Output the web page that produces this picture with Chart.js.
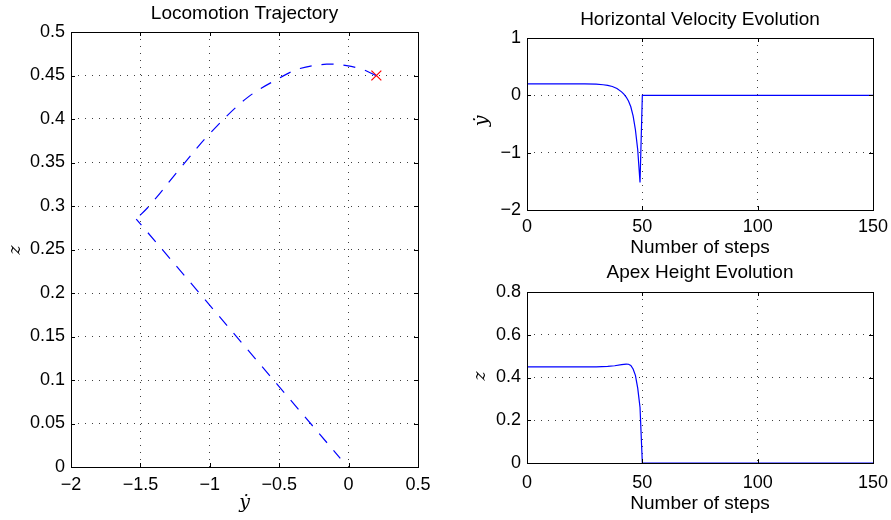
<!DOCTYPE html>
<html>
<head>
<meta charset="utf-8">
<script src="https://cdn.jsdelivr.net/npm/chart.js@4/dist/chart.umd.min.js"></script>
<style>
  html, body { margin: 0; padding: 0; background: #fff; }
  #wrap { position: relative; width: 891px; height: 520px; }
  #wrap canvas { position: absolute; left: 0; top: 0; }
</style>
</head>
<body>
<div id="wrap">
  <canvas id="trajChart" width="891" height="520"></canvas>
  <canvas id="velChart" width="891" height="520"></canvas>
  <canvas id="apexChart" width="891" height="520"></canvas>
</div>
<script>
// ── Data ───────────────────────────────────────────────────────────────
// left: apex trajectory (ydot vs z)
const trajCurveX = [0.195, 0.1, -0.014, -0.158, -0.35, -0.499, -0.734, -0.999, -1.215, -1.431, -1.53];
const trajCurveZ = [0.45, 0.457, 0.4613, 0.463, 0.458, 0.447, 0.424, 0.3835, 0.343, 0.301, 0.285];
const trajReturnX = [-1.53, -0.06];
const trajReturnZ = [0.285, 0.01];
const startX = [0.2];
const startZ = [0.45];

// right: evolution over steps
const velSteps = [0, 25, 30, 33, 35, 37, 39, 41, 42, 43, 44, 45, 46, 47, 48, 49, 50, 150];
const velValues = [0.2, 0.2, 0.195, 0.185, 0.175, 0.155, 0.12, 0.06, 0.02, -0.03, -0.1, -0.2, -0.36, -0.6, -0.95, -1.52, 0, 0];
const apexSteps = [0, 30, 35, 38, 41, 43, 44, 45, 46, 47, 48, 49, 50, 150];
const apexValues = [0.45, 0.45, 0.452, 0.455, 0.46, 0.463, 0.462, 0.456, 0.44, 0.41, 0.35, 0.26, 0, 0];

const trajXTicks = [-2, -1.5, -1, -0.5, 0, 0.5];
const trajZTicks = [0, 0.05, 0.1, 0.15, 0.2, 0.25, 0.3, 0.35, 0.4, 0.45, 0.5];
const stepTicks = [0, 50, 100, 150];
const velTicks = [-2, -1, 0, 1];
const apexTicks = [0, 0.2, 0.4, 0.6, 0.8];

// ── Helpers ────────────────────────────────────────────────────────────
const SANS = "'Liberation Sans', Arial, Helvetica, sans-serif";
const SERIF = "'DejaVu Serif', 'Liberation Serif', serif";

const pts = (xs, ys) => xs.map((x, i) => ({ x, y: ys[i] }));
const fmt = (v) => String(+Number(v).toFixed(3)).replace("-", "\u2212");

const axisText = {
  id: "axisText",
  afterDraw(chart, _args, opts) {
    const { ctx, chartArea: a } = chart;
    const cx = (a.left + a.right) / 2;
    ctx.save();
    ctx.fillStyle = "#000";
    ctx.textAlign = "center";
    ctx.textBaseline = "alphabetic";
    ctx.font = `19px ${SANS}`;
    ctx.fillText(opts.title, cx, opts.titleY);
    ctx.font = opts.xFont;
    ctx.fillText(opts.xLabel, cx, opts.xLabelY);
    ctx.translate(opts.yLabelX, opts.yLabelY);
    ctx.rotate(-Math.PI / 2);
    ctx.textBaseline = "middle";
    ctx.font = opts.yFont;
    ctx.fillText(opts.yLabel, 0, 0);
    ctx.restore();
  },
};

// box and inward tick marks, matlab style
const frame = {
  id: "frame",
  afterDraw(chart) {
    const { ctx, chartArea: a } = chart;
    const xs = chart.scales.x;
    const ys = chart.scales.y;
    const L = 4;
    ctx.save();
    ctx.strokeStyle = "#000";
    ctx.lineWidth = 1;
    ctx.beginPath();
    xs.ticks.forEach((t) => {
      const px = Math.round(xs.getPixelForValue(t.value)) + 0.5;
      ctx.moveTo(px, a.bottom);
      ctx.lineTo(px, a.bottom - L);
      ctx.moveTo(px, a.top);
      ctx.lineTo(px, a.top + L);
    });
    ys.ticks.forEach((t) => {
      const py = Math.round(ys.getPixelForValue(t.value)) + 0.5;
      ctx.moveTo(a.left, py);
      ctx.lineTo(a.left + L, py);
      ctx.moveTo(a.right, py);
      ctx.lineTo(a.right - L, py);
    });
    ctx.stroke();
    ctx.strokeRect(Math.round(a.left) + 0.5, Math.round(a.top) + 0.5,
      Math.round(a.right - a.left), Math.round(a.bottom - a.top));
    ctx.restore();
  },
};

// size = fixed thickness of the axis box (labels are clipped to it)
function makeScale(axis, min, max, tickList, size, padding) {
  return {
    type: "linear",
    min,
    max,
    afterBuildTicks(scale) {
      scale.ticks = tickList.map((value) => ({ value }));
    },
    afterFit(scale) {
      if (axis === "x") scale.height = size;
      else scale.width = size;
      scale.paddingLeft = scale.paddingRight = scale.paddingTop = scale.paddingBottom = 0;
    },
    grid: { color: "rgba(0,0,0,0.75)", lineWidth: 1, drawTicks: false },
    border: { display: false, dash: [1, 6] },
    ticks: {
      color: "#000",
      font: { family: SANS, size: 18 },
      padding,
      maxRotation: 0,
      autoSkip: false,
      callback: (v) => fmt(v),
    },
  };
}

function baseOptions(pad, scales, text) {
  return {
    responsive: false,
    animation: false,
    events: [],
    layout: { padding: pad },
    plugins: { legend: { display: false }, tooltip: { enabled: false }, axisText: text },
    scales,
  };
}

const lineStyle = {
  showLine: true,
  borderColor: "#0000ff",
  borderWidth: 1.2,
  pointRadius: 0,
  fill: false,
};

// ── Locomotion trajectory ──────────────────────────────────────────────
new Chart(document.getElementById("trajChart"), {
  type: "scatter",
  data: {
    datasets: [
      { ...lineStyle, data: pts(trajCurveX, trajCurveZ), borderDash: [12, 10], tension: 0.35 },
      { ...lineStyle, data: pts(trajReturnX, trajReturnZ), borderDash: [12, 10], borderDashOffset: 4 },
      {
        data: pts(startX, startZ),
        showLine: false,
        pointStyle: "crossRot",
        pointRadius: 7,
        borderColor: "#ff0000",
        borderWidth: 1.2,
      },
    ],
  },
  options: baseOptions(
    { left: 0, top: 32, right: 473, bottom: 0 },
    {
      x: makeScale("x", -2, 0.5, trajXTicks, 53, 7),
      y: makeScale("y", 0, 0.5, trajZTicks, 71, 6),
    },
    {
      title: "Locomotion Trajectory", titleY: 19,
      xLabel: "\u1E8F", xLabelY: 508, xFont: `italic 19px ${SERIF}`,
      yLabel: "z", yLabelX: 16, yLabelY: 250, yFont: `italic 17px ${SERIF}`,
    }
  ),
  plugins: [axisText, frame],
});

// ── Horizontal velocity ────────────────────────────────────────────────
new Chart(document.getElementById("velChart"), {
  type: "scatter",
  data: { datasets: [{ ...lineStyle, data: pts(velSteps, velValues) }] },
  options: baseOptions(
    { left: 0, top: 38, right: 18, bottom: 0 },
    {
      x: makeScale("x", 0, 150, stepTicks, 310, 6),
      y: makeScale("y", -2, 1, velTicks, 527, 6),
    },
    {
      title: "Horizontal Velocity Evolution", titleY: 25,
      xLabel: "Number of steps", xLabelY: 253, xFont: `19px ${SANS}`,
      yLabel: "\u1E8F", yLabelX: 482, yLabelY: 121, yFont: `italic 19px ${SERIF}`,
    }
  ),
  plugins: [axisText, frame],
});

// ── Apex height ────────────────────────────────────────────────────────
new Chart(document.getElementById("apexChart"), {
  type: "scatter",
  data: { datasets: [{ ...lineStyle, data: pts(apexSteps, apexValues) }] },
  options: baseOptions(
    { left: 0, top: 292, right: 18, bottom: 0 },
    {
      x: makeScale("x", 0, 150, stepTicks, 57, 9),
      y: makeScale("y", 0, 0.8, apexTicks, 527, 6),
    },
    {
      title: "Apex Height Evolution", titleY: 278,
      xLabel: "Number of steps", xLabelY: 509, xFont: `19px ${SANS}`,
      yLabel: "z", yLabelX: 481, yLabelY: 376, yFont: `italic 17px ${SERIF}`,
    }
  ),
  plugins: [axisText, frame],
});
</script>
</body>
</html>
